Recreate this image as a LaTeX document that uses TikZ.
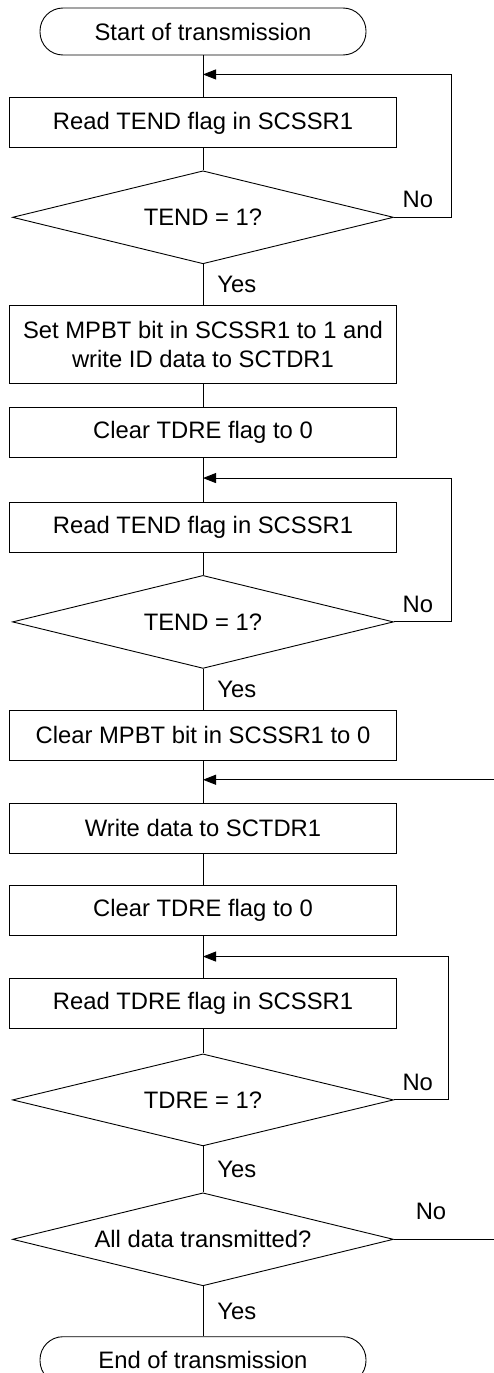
\documentclass[tikz,border=0pt]{standalone}
\usepackage{fontspec}
\setmainfont{Liberation Sans}
\usepackage{tikz}
\usetikzlibrary{arrows.meta,positioning,shapes.geometric}

\begin{document}
\begin{tikzpicture}[
  x=1pt, y=1pt,
  font=\fontsize{23.8}{29}\selectfont,
  line width=0.9pt,
  node distance=42pt,
  term/.style={draw, rounded corners=23pt, minimum width=326pt, minimum height=47pt,
               inner sep=0pt},
  proc/.style={draw, minimum width=387pt, minimum height=50pt, inner sep=0pt,
               align=center},
  test/.style={draw, diamond, aspect=4.1, minimum width=381pt, minimum height=93pt,
               inner sep=0pt},
  yes/.style={right, inner sep=0pt, xshift=14pt},
  no/.style={above, inner sep=0pt, yshift=9pt},
  flow/.style={-{Triangle[length=13pt,width=10pt]}}
]
\useasboundingbox (0,0) rectangle (494,-1373);
\coordinate (edge) at (494,0);

\node[term] (start) at (203,-31.5) {Start of transmission};
\node[proc, below=42pt of start] (rdtend) {Read TEND flag in SCSSR1};
\node[test, below=22pt of rdtend] (tend) {TEND = 1?};
\node[proc, below=41pt of tend, minimum height=78pt] (setmpbt)
  {Set MPBT bit in SCSSR1 to 1 and\\write ID data to SCTDR1};
\node[proc, below=23pt of setmpbt] (clrid) {Clear TDRE flag to 0};
\node[proc, below=44pt of clrid] (rdtendb) {Read TEND flag in SCSSR1};
\node[test, below=22pt of rdtendb] (tendb) {TEND = 1?};
\node[proc, below=41pt of tendb] (clrmpbt) {Clear MPBT bit in SCSSR1 to 0};
\node[proc, below=42pt of clrmpbt] (wrdata) {Write data to SCTDR1};
\node[proc, below=31pt of wrdata] (clrdata) {Clear TDRE flag to 0};
\node[proc, below=42pt of clrdata] (rdtdre) {Read TDRE flag in SCSSR1};
\node[test, below=25pt of rdtdre, minimum height=92pt] (tdre) {TDRE = 1?};
\node[test, below=46pt of tdre] (alldone) {All data transmitted?};
\node[term, below=50pt of alldone] (finish) {End of transmission};

% merge points of the loops
\coordinate (j1) at ([yshift=-19pt]start.south);
\coordinate (j2) at ([yshift=-20pt]clrid.south);
\coordinate (j3) at ([yshift=-19pt]clrmpbt.south);
\coordinate (j4) at ([yshift=-21pt]clrdata.south);

\draw (start) -- (rdtend);
\draw (rdtend) -- (tend);
\draw (tend) -- node[yes] {Yes} (setmpbt);
\draw (setmpbt) -- (clrid);
\draw (clrid) -- (rdtendb);
\draw (rdtendb) -- (tendb);
\draw (tendb) -- node[yes] {Yes} (clrmpbt);
\draw (clrmpbt) -- (wrdata);
\draw (wrdata) -- (clrdata);
\draw (clrdata) -- (rdtdre);
\draw (rdtdre) -- (tdre);
\draw (tdre) -- node[yes] {Yes} (alldone);
\draw (alldone) -- node[yes] {Yes} (finish);

% loops back
\draw[flow] (tend.east) -- node[no, pos=0.42] {No} ++(57,0) |- (j1);
\draw[flow] (tendb.east) -- node[no, pos=0.42] {No} ++(57,0) |- (j2);
\draw[flow] (tdre.east) -- node[no, pos=0.44] {No} ++(54,0) |- (j4);
\draw (alldone.east) -- node[no, pos=0.37, yshift=10pt] {No} (alldone.east -| edge);
\draw[flow] (j3 -| edge) -- (j3);
\end{tikzpicture}
\end{document}
